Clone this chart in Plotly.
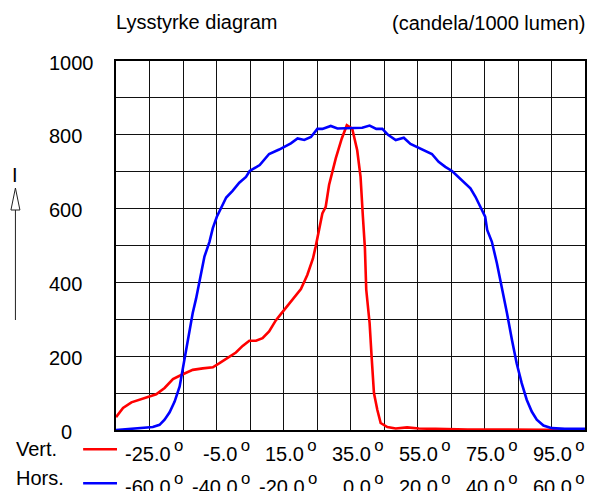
import plotly.graph_objects as go

# ---------------- data ----------------
vert_deg = [-35, -32.9, -30.4, -27.9, -25.2, -23.0, -20.5, -18.0, -16.0, -14.0, -12.1,
            -9.1, -6.1, -4.1, -1.7, 0.8, 2.8, 4.8, 6.8, 8.75, 10.7, 12.7, 14.2, 17.2,
            20.2, 22.1, 23.8, 24.6, 25.1, 26.6, 27.6, 28.6, 30.6, 32.4, 33.9, 35.5, 37.0,
            38.0, 38.7, 39.3, 39.7, 40.7, 41.3, 42.0, 43.0, 44.0, 46.0, 48.5, 51.9,
            55.4, 60.4, 64.3, 70, 80, 90, 105]
vert_cd = [35, 60, 75, 82, 89, 97, 114, 138, 147, 156, 163,
           167, 170, 181, 196, 210, 228, 242, 242, 249, 267, 297, 314, 348,
           382, 420, 465, 497, 520, 587, 605, 664, 736, 790, 826, 817, 758,
           686, 578, 493, 380, 290, 199, 100, 55, 19, 8, 4, 7,
           4, 3, 2, 1, 1, 0, 0]

hors_deg = [-70, -65.9, -62.0, -59.0, -57.0, -55.5, -54.0, -52.5, -51.0, -50.1, -49.0,
            -48.1, -47.1, -46.1, -44.6, -43.6, -42.1, -41.1, -39.9, -38.6, -37.1, -35.2,
            -33.2, -31.2, -30.1, -27.1, -24.3, -21.3, -17.8, -15.8, -13.8, -11.8, -9.9,
            -8.4, -5.9, -3.9, -1.4, 1.0, 3.5, 5.7, 7.7, 9.5, 11.2, 13.5, 15.9, 17.9,
            20.9, 24.3, 26.3, 28.3, 30.3, 33.3, 35.8, 37.3, 38.8, 40.2, 40.8, 42.2,
            43.7, 45.2, 46.7, 48.2, 49.6, 51.1, 52.6, 54.1, 55.6, 57.6, 60.1, 64.0,
            68.0, 70]
hors_cd = [0, 3, 4, 8, 14, 28, 48, 77, 118, 163, 217,
           271, 317, 356, 425, 470, 510, 547, 578, 601, 630, 648,
           670, 686, 702, 718, 748, 760, 777, 790, 786, 794, 816,
           816, 824, 817, 817, 817, 819, 825, 816, 816, 800, 786, 792, 775,
           763, 748, 727, 713, 702, 677, 655, 632, 605, 578, 542, 510,
           452, 389, 317, 244, 181, 127, 82, 50, 28, 12, 5, 3,
           3, 3]

vert_ticks = [-25, -5, 15, 35, 55, 75, 95]
hors_ticks = [-60, -40, -20, 0, 20, 40, 60]
y_ticks = [0, 200, 400, 600, 800, 1000]

title_text = "Lysstyrke diagram"
unit_text = "(candela/1000 lumen)"
axis_symbol = "I"
series_names = ["Vert.", "Hors."]
series_colors = ["#ff0000", "#0000ff"]

# ---------------- layout helpers ----------------
W, H = 590, 491
L, R, T, B = 116, 3, 61, 61
PW, PH = W - L - R, H - T - B
FONT = dict(family="Liberation Sans, Arial, sans-serif", size=20, color="black")
DEG = '<span style="font-size:24px"><sup>\u2009o</sup></span>'


def px(x):
    return (x - L) / PW


def py(y):
    return (H - B - y) / PH


fig = go.Figure()
fig.add_trace(go.Scatter(x=hors_deg, y=hors_cd, xaxis="x2", yaxis="y", mode="lines",
                         line=dict(color=series_colors[1], width=2.6), cliponaxis=False,
                         name=series_names[1], showlegend=False))
fig.add_trace(go.Scatter(x=vert_deg, y=vert_cd, xaxis="x", yaxis="y", mode="lines",
                         line=dict(color=series_colors[0], width=2.6), cliponaxis=False,
                         name=series_names[0], showlegend=False))

annotations = []


def ann(text, x, y, xref="paper", yref="paper", xanchor="center", yanchor="middle", **kw):
    d = dict(text=text, x=x, y=y, xref=xref, yref=yref, xanchor=xanchor, yanchor=yanchor,
             showarrow=False, font=FONT, borderpad=0, borderwidth=0)
    d.update(kw)
    annotations.append(d)


col_px = PW / 14.0
for v in vert_ticks:
    ann(f"{v:.1f}{DEG}", v, py(450), xref="x", xanchor="right", xshift=col_px)
for v in hors_ticks:
    ann(f"{v:.1f}{DEG}", v, py(483.5), xref="x2", xanchor="right", xshift=col_px)
for v in y_ticks:
    if v == 0:
        ann(str(v), px(66), v, yref="y", xanchor="center", yshift=-1.5)
    else:
        ann(str(v), px(49), v, yref="y", xanchor="left", yshift=-1.5)

ann(title_text, px(116), py(22.5), xanchor="left")
ann(unit_text, px(587), py(23), xanchor="right")
ann(axis_symbol, px(15), py(174.5))
ann(series_names[0], px(16), py(449), xanchor="left")
ann(series_names[1], px(16), py(478), xanchor="left")

shapes = [
    dict(type="line", xref="paper", yref="paper", x0=px(83), x1=px(117), y0=py(449.3), y1=py(449.3),
         line=dict(color=series_colors[0], width=2.6)),
    dict(type="line", xref="paper", yref="paper", x0=px(83), x1=px(117), y0=py(483.3), y1=py(483.3),
         line=dict(color=series_colors[1], width=2.6)),
    dict(type="line", xref="paper", yref="paper", x0=px(15), x1=px(15), y0=py(320), y1=py(210),
         line=dict(color="#222", width=1)),
    dict(type="path", xref="paper", yref="paper",
         path=f"M {px(10.5)},{py(210)} L {px(15)},{py(188)} L {px(19.5)},{py(210)} Z",
         fillcolor="white", line=dict(color="#222", width=1)),
]

axis_common = dict(showgrid=True, gridcolor="#111", gridwidth=1, zeroline=False,
                   showline=True, mirror=True, linecolor="black", linewidth=2,
                   ticks="", showticklabels=False, layer="below traces", fixedrange=True)

fig.update_layout(
    width=W, height=H,
    margin=dict(l=L, r=R, t=T, b=B, pad=0),
    paper_bgcolor="white", plot_bgcolor="white",
    showlegend=False,
    xaxis=dict(range=[-35, 105], tick0=-35, dtick=10, **axis_common),
    xaxis2=dict(range=[-70, 70], overlaying="x", visible=False, fixedrange=True),
    yaxis=dict(range=[0, 1000], tick0=0, dtick=100, **axis_common),
    annotations=annotations,
    shapes=shapes,
    font=FONT,
)

fig.write_html("out.html")
